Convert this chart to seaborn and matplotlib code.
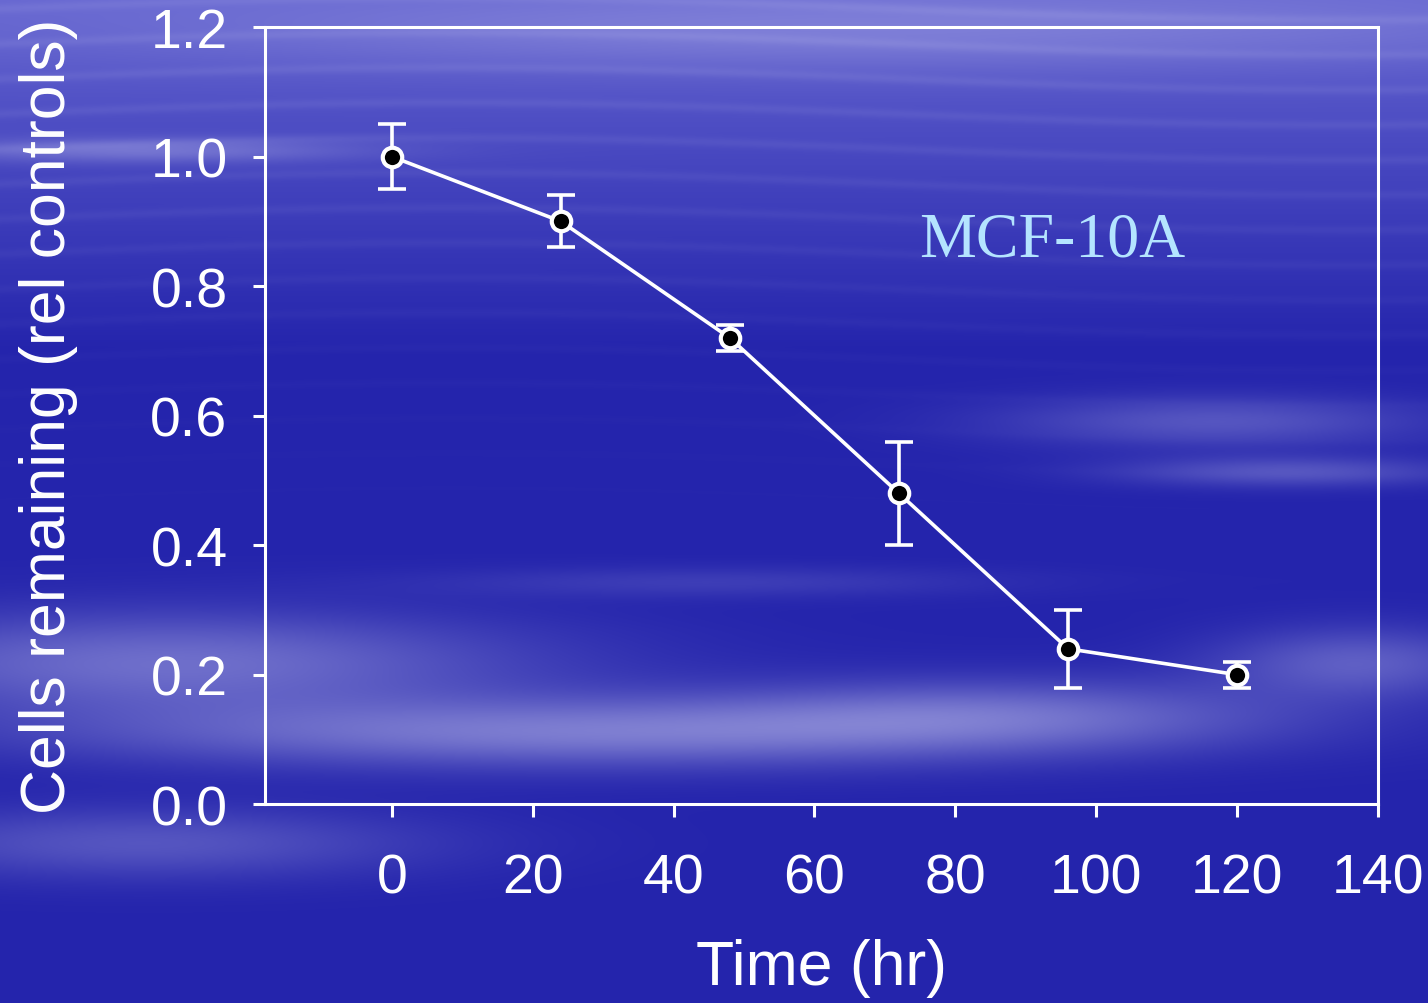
import numpy as np
import pandas as pd
import seaborn as sns
import matplotlib.pyplot as plt

# data
timeHr = [0, 24, 48, 72, 96, 120]
cellsRemaining = [1.00, 0.90, 0.72, 0.48, 0.24, 0.20]
errCells = [0.05, 0.04, 0.02, 0.08, 0.06, 0.02]
xTicks = [0, 20, 40, 60, 80, 100, 120, 140]
yTicks = [0.0, 0.2, 0.4, 0.6, 0.8, 1.0, 1.2]

dfCells = pd.DataFrame({'Time': timeHr, 'Cells': cellsRemaining, 'Err': errCells})

sns.set_theme(style='ticks')
plt.rcParams['font.family'] = ['Liberation Sans', 'DejaVu Sans']

fig = plt.figure(figsize=(14.28, 10.04), dpi=100)

# background: blue gradient with soft light streaks (decoration only)
H, W = 502, 714
yy, xx = np.mgrid[0:H, 0:W]
yn = yy / H
xn = xx / W
base = np.zeros((H, W, 3))
dark = np.array([36, 36, 172]) / 255.0
top = np.array([100, 100, 208]) / 255.0
t = np.clip(yn / 0.35, 0, 1)[..., None]
base[:] = top * (1 - t) + dark * t

def band(cx, cy, sx, sy, amp):
    return amp * np.exp(-((xn - cx) / sx) ** 2 - ((yn - cy) / sy) ** 2)

light = np.zeros((H, W))
light += band(0.1, 0.15, 0.15, 0.012, 0.35)
light += band(0.85, 0.42, 0.15, 0.025, 0.3)
light += band(0.9, 0.47, 0.12, 0.015, 0.3)
light += band(0.12, 0.66, 0.25, 0.05, 0.45)
light += band(0.4, 0.73, 0.35, 0.035, 0.5)
light += band(0.7, 0.71, 0.2, 0.035, 0.35)
light += band(0.95, 0.66, 0.1, 0.035, 0.35)
light += band(0.1, 0.84, 0.2, 0.035, 0.3)
light += band(0.5, 0.58, 0.2, 0.015, 0.15)
light += band(0.6, 0.03, 0.5, 0.04, 0.3)
# fine horizontal streaks in the upper part
streaks = 0.5 + 0.5 * np.sin(yn * 180 + 2 * np.sin(xn * 5))
light += 0.1 * streaks ** 6 * np.exp(-(yn / 0.3) ** 2)
light = np.clip(light, 0, 1)[..., None]
white = np.array([200, 200, 240]) / 255.0
bg = base * (1 - light) + white * light

bgAx = fig.add_axes([0, 0, 1, 1], zorder=0)
bgAx.imshow(bg, aspect='auto', interpolation='bilinear')
bgAx.axis('off')

ax = fig.add_axes([0.1856, 0.198, 0.965 - 0.1856, 0.972 - 0.198], zorder=1)
ax.patch.set_alpha(0)

ax.errorbar(dfCells['Time'], dfCells['Cells'], yerr=dfCells['Err'], fmt='none',
            ecolor='white', elinewidth=2.6, capsize=10, capthick=2.6, zorder=2)
sns.lineplot(data=dfCells, x='Time', y='Cells', ax=ax, color='white', linewidth=2.6,
             marker='o', markersize=14, markerfacecolor='black',
             markeredgecolor='white', markeredgewidth=3, zorder=3)

ax.set_xlim(-18, 140)
ax.set_ylim(0, 1.2)
ax.set_xticks(xTicks)
ax.set_yticks(yTicks)
ax.set_yticklabels([f'{v:.1f}' for v in yTicks])
for side in ['left', 'right', 'top', 'bottom']:
    ax.spines[side].set_color('white')
    ax.spines[side].set_linewidth(2.2)
ax.tick_params(axis='both', colors='white', labelsize=40, width=2.2, length=9,
               direction='out')
ax.tick_params(axis='x', pad=26)
ax.tick_params(axis='y', pad=18)
ax.set_xlabel('Time (hr)', color='white', fontsize=45, labelpad=24)
ax.set_ylabel('Cells remaining (rel controls)', color='white', fontsize=45, labelpad=52)
ax.text(93.7, 0.87, 'MCF-10A', color='#b4e4ff', fontsize=46,
        family=['Liberation Serif', 'DejaVu Serif'], ha='center', va='center')

fig.savefig('out.png', dpi=100)
